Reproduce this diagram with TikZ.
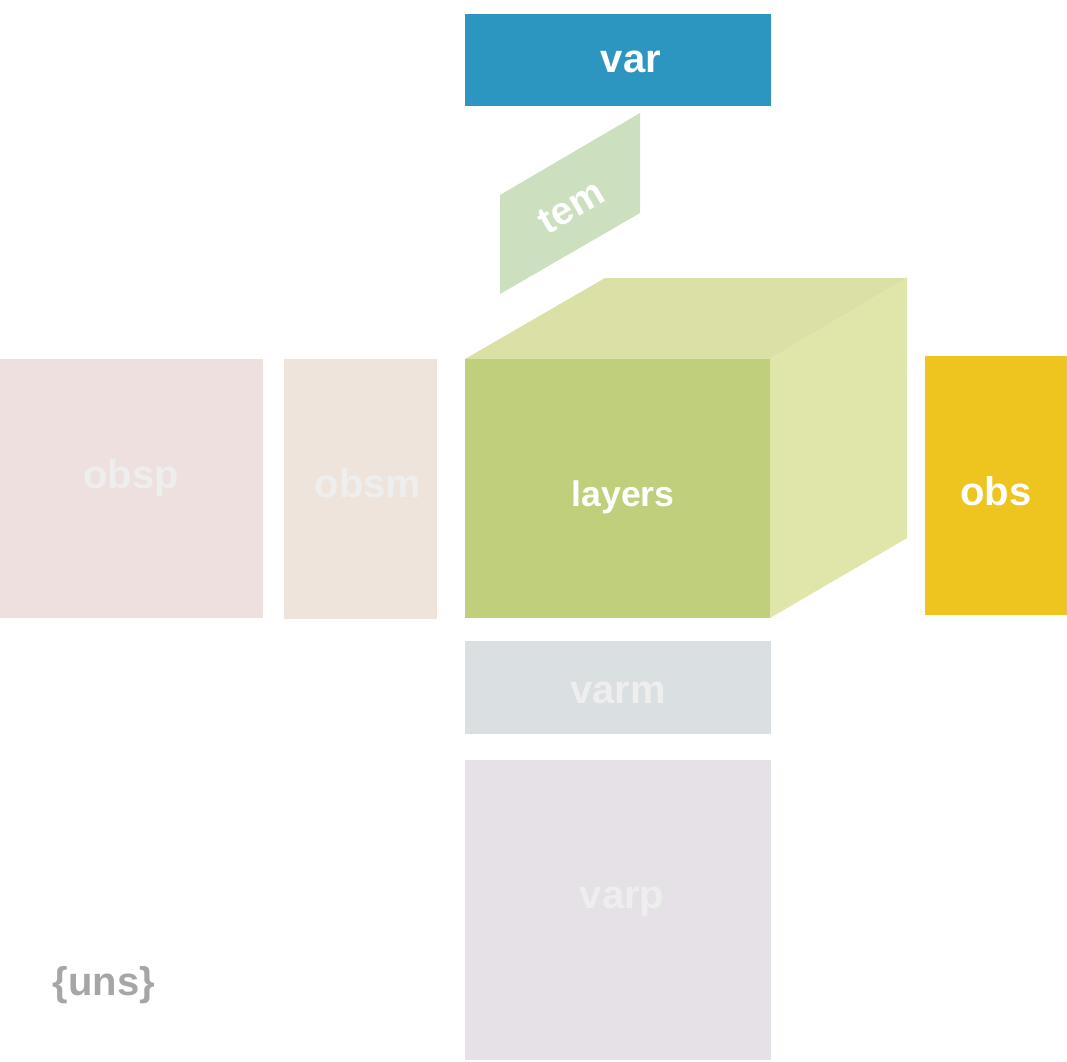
\documentclass[tikz,border=0pt]{standalone}
\usepackage{fontspec}
\setmainfont{Liberation Sans}
\definecolor{cvar}{RGB}{44,150,193}
\definecolor{ctem}{RGB}{204,223,191}
\definecolor{ctop}{RGB}{218,224,166}
\definecolor{cside}{RGB}{224,229,170}
\definecolor{cfront}{RGB}{192,207,124}
\definecolor{cobs}{RGB}{238,196,31}
\definecolor{cobsp}{RGB}{237,224,223}
\definecolor{cobsm}{RGB}{238,228,219}
\definecolor{cvarm}{RGB}{218,223,225}
\definecolor{cvarp}{RGB}{230,225,230}
\definecolor{cpale}{RGB}{238,238,238}
\definecolor{cuns}{RGB}{166,166,166}
\begin{document}
\begin{tikzpicture}[x=1pt,y=-1pt,
  lbl/.style={font=\bfseries\fontsize{40}{48}\selectfont, inner sep=0pt, anchor=center},
  white lbl/.style={lbl, text=white},
  pale lbl/.style={lbl, text=cpale}]
\useasboundingbox (0,0) rectangle (1067,1061);
% boxes
\fill[cvar] (465,14) rectangle (771,106);
\fill[ctem] (500,195) -- (640,113) -- (640,213) -- (500,294) -- cycle;
\fill[ctop] (465,359) -- (605,278) -- (907,278) -- (770,359) -- cycle;
\fill[cside] (770,359) -- (907,278) -- (907,538) -- (770,618) -- cycle;
\fill[cfront] (465,359) rectangle (770,618);
\fill[cobs] (925,356) rectangle (1067,615);
\fill[cobsp] (0,359) rectangle (263,618);
\fill[cobsm] (284,359) rectangle (437,619);
\fill[cvarm] (465,641) rectangle (771,734);
\fill[cvarp] (465,760) rectangle (771,1060);
% labels
\node[white lbl] (var) at (631,62) {var};
\node[white lbl, rotate=30, font=\bfseries\fontsize{39}{46}\selectfont] (tem) at (571,207) {tem};
\node[white lbl, font=\bfseries\fontsize{35.6}{42}\selectfont] (layers) at (623,497) {layers};
\node[white lbl] (obs) at (996,491) {obs};
\node[pale lbl] (obsp) at (131,478) {obsp};
\node[pale lbl] (obsm) at (368,483) {obsm};
\node[pale lbl] (varm) at (618,693) {varm};
\node[pale lbl] (varp) at (622,902) {varp};
\node[lbl, text=cuns] (uns) at (104,985) {\{uns\}};
\end{tikzpicture}
\end{document}
